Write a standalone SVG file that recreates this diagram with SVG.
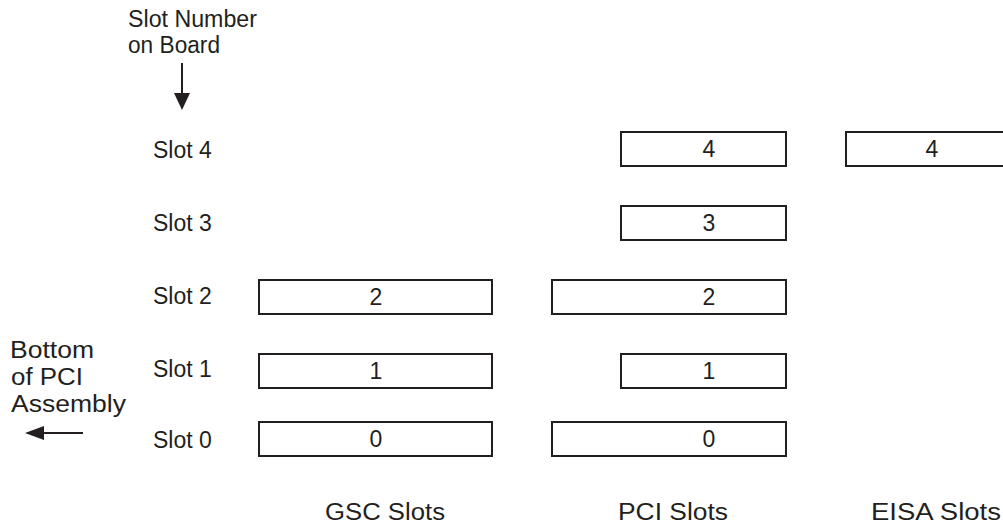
<svg xmlns="http://www.w3.org/2000/svg" width="1003" height="525" viewBox="0 0 1003 525">
<style>
text{font-family:"Liberation Sans",Arial,sans-serif;font-size:23px;fill:#231f20}
.m{text-anchor:middle}
.b{fill:#fff;stroke:#231f20;stroke-width:2}
.c{stroke:#231f20;stroke-width:2;fill:none}
</style>
<rect width="1003" height="525" fill="#fff"/>
<g id="labels">
<text x="128" y="27" textLength="129" lengthAdjust="spacingAndGlyphs">Slot Number</text>
<text x="128" y="53" textLength="92" lengthAdjust="spacingAndGlyphs">on Board</text>
<text x="10" y="358" textLength="84" lengthAdjust="spacingAndGlyphs">Bottom</text>
<text x="11" y="385" textLength="72" lengthAdjust="spacingAndGlyphs">of PCI</text>
<text x="11" y="412" textLength="115" lengthAdjust="spacingAndGlyphs">Assembly</text>
<text x="153" y="158">Slot 4</text>
<text x="153" y="231">Slot 3</text>
<text x="153" y="304">Slot 2</text>
<text x="153" y="377">Slot 1</text>
<text x="153" y="448">Slot 0</text>
<text x="325" y="520" textLength="120" lengthAdjust="spacingAndGlyphs">GSC Slots</text>
<text x="618" y="520" textLength="110" lengthAdjust="spacingAndGlyphs">PCI Slots</text>
<text x="871" y="520" textLength="130" lengthAdjust="spacingAndGlyphs">EISA Slots</text>
</g>
<g id="connectors">
<line class="c" x1="182" y1="63" x2="182" y2="93"/>
<path d="M174,93 L190,93 L182,110 Z" fill="#231f20"/>
<line class="c" x1="83" y1="433" x2="44" y2="433"/>
<path d="M44,426 L44,440 L25,433 Z" fill="#231f20"/>
</g>
<g id="gsc2"><rect class="b" x="259" y="280" width="233" height="34"/><text class="m" x="376" y="305">2</text></g>
<g id="gsc1"><rect class="b" x="259" y="354" width="233" height="34"/><text class="m" x="376" y="379">1</text></g>
<g id="gsc0"><rect class="b" x="259" y="422" width="233" height="34"/><text class="m" x="376" y="447">0</text></g>
<g id="pci4"><rect class="b" x="621" y="132" width="165" height="34"/><text class="m" x="709" y="157">4</text></g>
<g id="pci3"><rect class="b" x="621" y="206" width="165" height="34"/><text class="m" x="709" y="231">3</text></g>
<g id="pci2"><rect class="b" x="552" y="280" width="234" height="34"/><text class="m" x="709" y="305">2</text></g>
<g id="pci1"><rect class="b" x="621" y="354" width="165" height="34"/><text class="m" x="709" y="379">1</text></g>
<g id="pci0"><rect class="b" x="552" y="422" width="234" height="34"/><text class="m" x="709" y="447">0</text></g>
<g id="eisa4"><rect class="b" x="846" y="132" width="165" height="34"/><text class="m" x="932" y="157">4</text></g>
</svg>
